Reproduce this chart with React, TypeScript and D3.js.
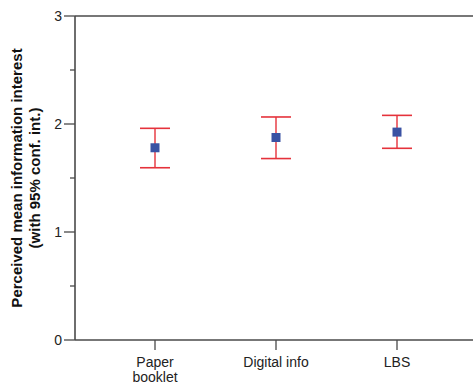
import React from "react";
import * as d3 from "d3";

const categories = ["Paper booklet", "Digital info", "LBS"];
const categoryLines = [["Paper", "booklet"], ["Digital info"], ["LBS"]];
const means = [1.78, 1.875, 1.925];
const lower = [1.595, 1.68, 1.775];
const upper = [1.96, 2.065, 2.08];
const majorTicks = [0, 1, 2, 3];
const minorTicks = [0.5, 1.5, 2.5];

const W = 473;
const H = 385;
const left = 75;
const top = 16;
const bottom = 340;

export default function App() {
  const y = d3.scaleLinear().domain([0, 3]).range([bottom, top]);
  const x = d3.scalePoint<string>().domain(categories).range([155, 397]);
  const axisColor = "#4a4a4a";
  const red = "#e5323b";
  const blue = "#3a52a3";
  const font = "Liberation Sans, Arial, sans-serif";
  return (
    <svg width={W} height={H} style={{ position: "absolute", left: 0, top: 0 }} fontFamily={font}>
      <rect x={0} y={0} width={W} height={H} fill="#fff" />
      <line x1={left} x2={W} y1={y(3)} y2={y(3)} stroke={axisColor} strokeWidth={1.6} />
      <line x1={left} x2={W} y1={y(0)} y2={y(0)} stroke={axisColor} strokeWidth={1.6} />
      <line x1={left} x2={left} y1={y(3)} y2={y(0)} stroke={axisColor} strokeWidth={1.6} />
      {majorTicks.map((t) => (
        <g key={t}>
          <line x1={64} x2={left} y1={y(t)} y2={y(t)} stroke={axisColor} strokeWidth={1.3} />
          <text x={62} y={y(t)} dy="0.35em" textAnchor="end" fontSize={14} fill="#222">
            {t}
          </text>
        </g>
      ))}
      {minorTicks.map((t) => (
        <line key={t} x1={70} x2={left} y1={y(t)} y2={y(t)} stroke={axisColor} strokeWidth={1.3} />
      ))}
      {categories.map((c, i) => (
        <g key={c}>
          <line x1={x(c)} x2={x(c)} y1={bottom} y2={350} stroke={axisColor} strokeWidth={1.3} />
          {categoryLines[i].map((l, j) => (
            <text key={j} x={x(c)} y={367 + j * 15} textAnchor="middle" fontSize={14} fill="#222">
              {l}
            </text>
          ))}
        </g>
      ))}
      <text
        transform={`translate(22,${(top + bottom) / 2}) rotate(-90)`}
        textAnchor="middle"
        fontSize={15}
        fontWeight="bold"
        fill="#111"
      >
        <tspan x={0} dy={0}>Perceived mean information interest</tspan>
        <tspan x={0} dy={18}>(with 95% conf. int.)</tspan>
      </text>
      {categories.map((c, i) => {
        const cx = x(c) as number;
        return (
          <g key={c}>
            <line x1={cx} x2={cx} y1={y(upper[i])} y2={y(lower[i])} stroke={red} strokeWidth={1.4} />
            <line x1={cx - 15} x2={cx + 15} y1={y(upper[i])} y2={y(upper[i])} stroke={red} strokeWidth={1.6} />
            <line x1={cx - 15} x2={cx + 15} y1={y(lower[i])} y2={y(lower[i])} stroke={red} strokeWidth={1.6} />
            <rect x={cx - 4.5} y={y(means[i]) - 4.5} width={9} height={9} fill={blue} />
          </g>
        );
      })}
    </svg>
  );
}
